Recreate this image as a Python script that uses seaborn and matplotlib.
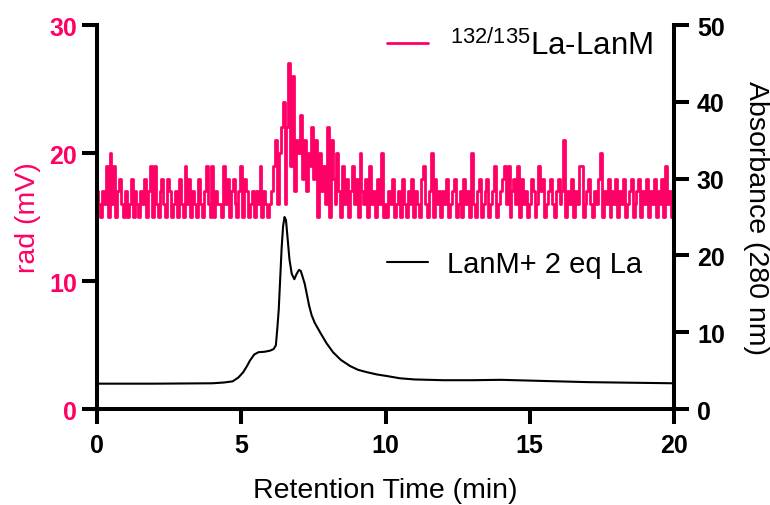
import matplotlib
matplotlib.use("Agg")
import matplotlib.pyplot as plt
import numpy as np
import pandas as pd
import seaborn as sns

# Radiometric trace (mV), one reading every 4 s (15 per minute), 0-20 min
rad_min_00 = [17, 16, 15, 17, 16, 19, 15, 20, 16, 19, 15, 17, 18, 16, 15]
rad_min_01 = [17, 15, 16, 18, 15, 17, 16, 15, 17, 16, 18, 15, 17, 19, 15]
rad_min_02 = [19, 16, 15, 17, 18, 16, 15, 18, 17, 15, 16, 17, 15, 18, 16]
rad_min_03 = [15, 19, 16, 18, 15, 17, 16, 15, 18, 16, 15, 17, 19, 16, 15]
rad_min_04 = [19, 15, 17, 16, 16, 15, 19, 16, 18, 15, 17, 18, 16, 15, 17]
rad_min_05 = [19, 15, 18, 17, 15, 16, 17, 15, 17, 16, 19, 15, 17, 16, 15]
rad_min_06 = [16, 17, 19, 21, 16, 20, 22, 24, 16, 22, 27, 19, 26, 17, 21]
rad_min_07 = [20, 23, 18, 21, 17, 20, 19, 22, 18, 21, 15, 20, 17, 19, 16]
rad_min_08 = [22, 15, 21, 18, 16, 20, 17, 15, 19, 16, 18, 15, 17, 19, 16]
rad_min_09 = [18, 15, 20, 17, 16, 18, 15, 19, 16, 17, 15, 18, 16, 20, 15]
rad_min_10 = [16, 15, 17, 16, 18, 15, 16, 17, 15, 18, 16, 15, 17, 16, 18]
rad_min_11 = [15, 17, 16, 15, 18, 19, 16, 15, 17, 20, 15, 18, 16, 17, 15]
rad_min_12 = [17, 16, 18, 15, 16, 17, 18, 15, 16, 17, 15, 18, 16, 17, 15]
rad_min_13 = [20, 16, 15, 17, 18, 15, 16, 17, 18, 15, 16, 17, 19, 15, 16]
rad_min_14 = [17, 18, 19, 16, 19, 15, 17, 18, 16, 19, 15, 18, 16, 17, 15]
rad_min_15 = [16, 18, 17, 15, 16, 19, 17, 18, 15, 16, 17, 18, 16, 15, 17]
rad_min_16 = [18, 16, 17, 21, 15, 17, 16, 18, 15, 17, 16, 19, 19, 15, 16]
rad_min_17 = [17, 18, 16, 15, 17, 16, 18, 20, 15, 17, 16, 18, 15, 17, 16]
rad_min_18 = [18, 15, 17, 16, 18, 15, 16, 17, 18, 15, 16, 17, 18, 15, 17]
rad_min_19 = [16, 18, 15, 17, 16, 18, 15, 17, 16, 18, 15, 19, 16, 17, 15]
rad_end = [16]

rad_mv = (rad_min_00 + rad_min_01 + rad_min_02 + rad_min_03 + rad_min_04
          + rad_min_05 + rad_min_06 + rad_min_07 + rad_min_08 + rad_min_09
          + rad_min_10 + rad_min_11 + rad_min_12 + rad_min_13 + rad_min_14
          + rad_min_15 + rad_min_16 + rad_min_17 + rad_min_18 + rad_min_19
          + rad_end)
rad_time = [i / 15 for i in range(len(rad_mv))]

# UV absorbance at 280 nm
abs_time = [0, 2, 4, 4.4, 4.7, 4.9, 5.07, 5.2, 5.3, 5.45, 5.6, 5.8, 6.0,
            6.12, 6.2, 6.25, 6.3, 6.35, 6.4, 6.45, 6.5, 6.55, 6.6, 6.67,
            6.75, 6.84, 6.92, 7.0, 7.06, 7.12, 7.2, 7.27, 7.35, 7.44, 7.55,
            7.73, 7.95, 8.18, 8.45, 8.77, 9.05, 9.35, 9.7, 10.04, 10.5, 11,
            12, 13, 14, 15, 16, 17, 18, 19, 20]
abs_280 = [3.3, 3.3, 3.35, 3.45, 3.6, 4.1, 4.8, 5.6, 6.3, 7.1, 7.4, 7.45, 7.6,
           7.8, 8.3, 10.5, 13.0, 17.0, 21.0, 23.8, 25.0, 24.6, 22.5, 19.5,
           17.6, 16.9, 17.6, 18.1, 18.0, 17.3, 16.3, 15.0, 13.5, 12.2, 11.2,
           10.0, 8.6, 7.4, 6.4, 5.6, 5.1, 4.8, 4.5, 4.3, 4.0, 3.85,
           3.75, 3.75, 3.8, 3.7, 3.6, 3.5, 3.45, 3.4, 3.35]

x_ticks = [0, 5, 10, 15, 20]
rad_ticks = [0, 10, 20, 30]
abs_ticks = [0, 10, 20, 30, 40, 50]

rad_label = r"$^{\mathregular{132/135}}$La-LanM"
abs_label = "LanM+ 2 eq La"

PINK = "#FF0066"

sns.set_theme(style="ticks")
plt.rcParams["font.family"] = ["Liberation Sans", "DejaVu Sans"]
plt.rcParams["mathtext.fontset"] = "custom"
plt.rcParams["mathtext.rm"] = "Liberation Sans"
plt.rcParams["mathtext.default"] = "regular"
plt.rcParams["text.color"] = "black"
plt.rcParams["axes.labelcolor"] = "black"

rad_df = pd.DataFrame({"time": rad_time, "rad": rad_mv})
abs_df = pd.DataFrame({"time": abs_time, "abs": abs_280})

fig = plt.figure(figsize=(7.7, 5.06), dpi=100)
ax = fig.add_axes([0.126, 0.1897, 0.7493, 0.7589])
ax2 = ax.twinx()

sns.lineplot(data=rad_df, x="time", y="rad", ax=ax, color=PINK,
             linewidth=2.0, drawstyle="steps-mid", label=rad_label,
             legend=False)
sns.lineplot(data=abs_df, x="time", y="abs", ax=ax2, color="black",
             linewidth=1.5, label=abs_label, legend=False)

ax.set_xlim(0, 20)
ax.set_ylim(0, 30)
ax2.set_ylim(0, 50)
ax.set_xticks(x_ticks)
ax.set_yticks(rad_ticks)
ax2.set_yticks(abs_ticks)

spine_w = 2.9
for a in (ax, ax2):
    a.spines["top"].set_visible(False)
    for side in ("left", "right", "bottom"):
        a.spines[side].set_linewidth(spine_w)
        a.spines[side].set_color("black")
ax.spines["right"].set_visible(False)
ax2.spines["left"].set_visible(False)
ax2.spines["bottom"].set_visible(False)

ax.tick_params(axis="x", length=10.5, width=spine_w, pad=7, labelsize=18,
               colors="black")
ax.tick_params(axis="y", length=10.5, width=spine_w, pad=4, labelsize=18,
               color="black", labelcolor=PINK)
ax2.tick_params(axis="y", length=10.5, width=spine_w, pad=6, labelsize=18,
                color="black", labelcolor="black")
for lbl in ax.get_xticklabels() + ax.get_yticklabels() + ax2.get_yticklabels():
    lbl.set_fontweight("bold")

ax.set_xlabel("Retention Time (min)", fontsize=20.5, labelpad=14)
ax.set_ylabel("rad (mV)", fontsize=20.5, color=PINK, labelpad=6)
ax2.set_ylabel("Absorbance (280 nm)", fontsize=20.5, rotation=270,
               labelpad=32)

ax.legend(handles=[ax.lines[0]], loc="center left",
          bbox_to_anchor=(0.503, 0.948), frameon=False,
          fontsize=22.5, handlelength=1.3, handletextpad=0.7,
          borderpad=0, borderaxespad=0)
ax2.legend(handles=[ax2.lines[0]], loc="center left",
           bbox_to_anchor=(0.503, 0.378), frameon=False,
           fontsize=21, handlelength=1.4, handletextpad=0.65,
           borderpad=0, borderaxespad=0)

fig.savefig("out.png", dpi=100)
